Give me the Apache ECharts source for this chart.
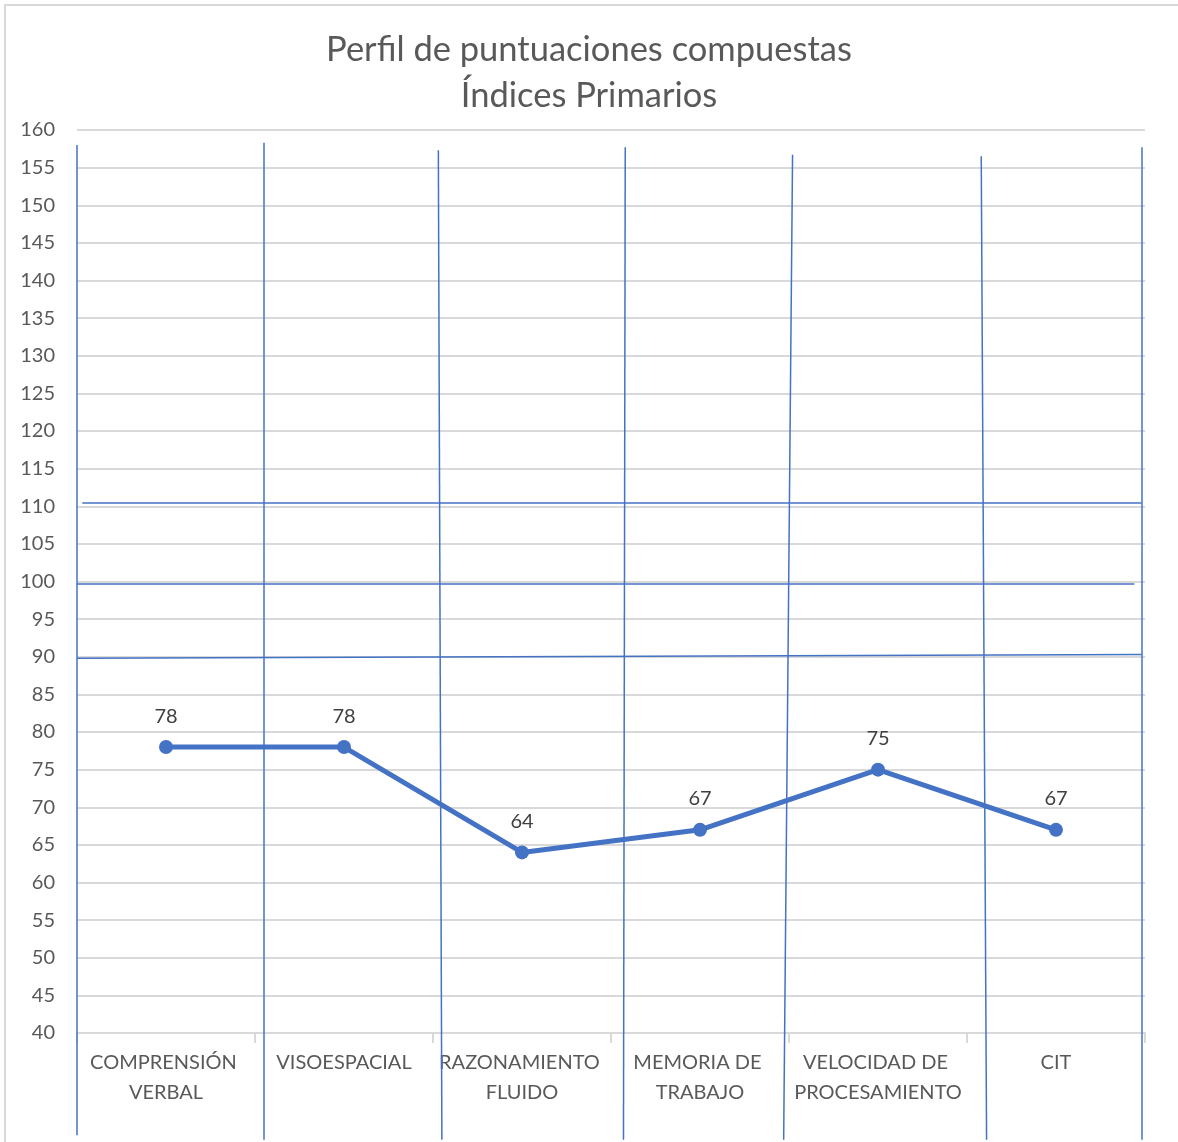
<!DOCTYPE html>
<html>
<head>
<meta charset="utf-8">
<script src="https://cdn.jsdelivr.net/npm/echarts@6/dist/echarts.min.js"></script>
<style>
  html, body { margin: 0; padding: 0; background: #fff; }
  #main { width: 1178px; height: 1142px; }
</style>
</head>
<body>
<div id="main"></div>
<script>
var categories = ['COMPRENSIÓN VERBAL', 'VISOESPACIAL', 'RAZONAMIENTO FLUIDO',
    'MEMORIA DE TRABAJO', 'VELOCIDAD DE PROCESAMIENTO', 'CIT'];
var scores = [78, 78, 64, 67, 75, 67];

// hand drawn guide lines, in [slot position 0..6, score] units
var verticalGuides = [
    [[0.00, 158.0], [0.00, 26.4]],
    [[1.05, 158.3], [1.05, 25.8]],
    [[2.03, 157.3], [2.05, 25.8]],
    [[3.08, 157.7], [3.07, 25.8]],
    [[4.02, 156.7], [3.97, 25.8]],
    [[5.08, 156.5], [5.11, 25.8]],
    [[5.98, 157.7], [5.98, 25.8]]
];
var horizontalGuides = [
    [[0.03, 110.4], [5.98, 110.4]],
    [[0.00, 99.7], [5.94, 99.7]],
    [[0.00, 89.8], [5.98, 90.3]]
];

var myChart = echarts.init(document.getElementById('main'));
var font = 'Lato, "Open Sans", sans-serif';
var guideLines = verticalGuides.concat(horizontalGuides).map(function (g) {
    return [{ coord: g[0] }, { coord: g[1] }];
});

var option = {
    backgroundColor: '#fff',
    animation: false,
    title: {
        text: 'Perfil de puntuaciones compuestas\nÍndices Primarios',
        left: 'center',
        top: 22,
        textStyle: {
            color: '#595959',
            fontFamily: font,
            fontSize: 34.5,
            fontWeight: 'normal',
            lineHeight: 46
        }
    },
    graphic: [{
        type: 'rect',
        shape: { x: 5, y: 5, width: 1190, height: 1150 },
        style: { fill: null, stroke: '#d9d9d9', lineWidth: 2 },
        silent: true
    }],
    grid: [
        { left: 77, right: 33, top: 130, bottom: 109 },
        // same scale as the main grid, stretched down to the page bottom for the guides
        { left: 77, right: 33, top: 130, bottom: 0 }
    ],
    xAxis: [{
        type: 'category',
        data: categories,
        boundaryGap: true,
        axisLine: { lineStyle: { color: '#d9d9d9', width: 2 } },
        axisTick: { show: true, length: 10, lineStyle: { color: '#d9d9d9', width: 2 } },
        axisLabel: {
            interval: 0,
            color: '#595959',
            fontFamily: font,
            fontSize: 20,
            lineHeight: 30,
            margin: 15,
            width: 172,
            overflow: 'break'
        },
        splitLine: { show: false }
    }, {
        type: 'value',
        gridIndex: 1,
        min: 0,
        max: 6,
        show: false
    }],
    yAxis: [{
        type: 'value',
        min: 40,
        max: 160,
        interval: 5,
        axisLine: { show: false },
        axisTick: { show: false },
        axisLabel: {
            color: '#595959',
            fontFamily: font,
            fontSize: 20,
            margin: 22
        },
        splitLine: { lineStyle: { color: '#d9d9d9', width: 2 } }
    }, {
        type: 'value',
        gridIndex: 1,
        min: 25.5,
        max: 160,
        show: false
    }],
    series: [{
        name: 'Puntuación',
        type: 'line',
        data: scores,
        symbol: 'circle',
        symbolSize: 14,
        lineStyle: { color: '#4472C4', width: 5 },
        itemStyle: { color: '#4472C4' },
        label: {
            show: true,
            position: 'top',
            distance: 14,
            color: '#404040',
            fontFamily: font,
            fontSize: 20
        },
        z: 3
    }, {
        name: 'guias',
        type: 'line',
        xAxisIndex: 1,
        yAxisIndex: 1,
        data: [],
        clip: false,
        markLine: {
            silent: true,
            symbol: 'none',
            label: { show: false },
            lineStyle: { color: '#4472C4', width: 1.5, type: 'solid' },
            data: guideLines
        },
        z: 2
    }]
};

myChart.setOption(option);
</script>
</body>
</html>
